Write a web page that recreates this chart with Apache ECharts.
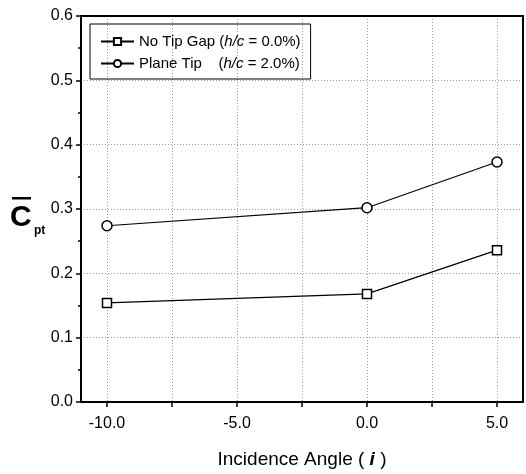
<!DOCTYPE html>
<html>
<head>
<meta charset="utf-8">
<script src="https://cdn.jsdelivr.net/npm/echarts@6/dist/echarts.min.js"></script>
<style>
  html, body { margin: 0; padding: 0; background: #fff; }
  #chart { width: 526px; height: 474px; }
</style>
</head>
<body>
<div id="chart"></div>
<script>
// data
var angles = [-10, 0, 5];
var noTipGap = [0.154, 0.168, 0.236];
var planeTip = [0.274, 0.302, 0.373];
var xLabelValues = [-10, -5, 0, 5];
var xTickValues = [-10, -7.5, -5, -2.5, 0, 2.5, 5];

var FONT = '"Liberation Sans", Arial, sans-serif';

function pairs(xs, ys){
    return xs.map(function(x, i){ return [x, ys[i]]; });
}

var gridLine = { show: true, lineStyle: { color: '#9a9a9a', type: [1, 2], width: 1 } };

var chart = echarts.init(document.getElementById('chart'));

chart.setOption({
    animation: false,
    backgroundColor: '#fff',
    grid: { left: 81, top: 16, right: 3, bottom: 72 },
    legend: {
        left: 90, top: 24,
        orient: 'vertical',
        borderColor: '#000', borderWidth: 1,
        padding: [10, 10, 8, 10],
        itemGap: 7,
        itemWidth: 33, itemHeight: 9,
        textStyle: {
            fontFamily: FONT, fontSize: 15, color: '#000',
            rich: { it: { fontFamily: FONT, fontSize: 15, fontStyle: 'italic', color: '#000' } }
        },
        formatter: function(name){
            if (name === 'No Tip Gap') return 'No Tip Gap ({it|h/c} = 0.0%)';
            return 'Plane Tip    ({it|h/c} = 2.0%)';
        },
        data: ['No Tip Gap', 'Plane Tip']
    },
    xAxis: [{
        type: 'value', min: -11, max: 6,
        name: 'Incidence Angle ( {b|i} )',
        nameLocation: 'middle', nameGap: 48,
        nameTextStyle: {
            fontFamily: FONT, fontSize: 19, color: '#000',
            rich: { b: { fontFamily: FONT, fontSize: 19, fontWeight: 'bold', fontStyle: 'italic', color: '#000' } }
        },
        axisLine: { show: true, onZero: false, lineStyle: { color: '#000', width: 2 } },
        axisTick: { show: true, customValues: xTickValues, length: 5, lineStyle: { color: '#000', width: 1.5 } },
        axisLabel: {
            customValues: xLabelValues, margin: 14,
            fontFamily: FONT, fontSize: 16, color: '#000',
            formatter: function(v){ return v.toFixed(1); }
        },
        splitLine: gridLine
    }, {
        type: 'value', min: -11, max: 6, position: 'top',
        axisLine: { show: true, onZero: false, lineStyle: { color: '#000', width: 2 } },
        axisTick: { show: false }, axisLabel: { show: false }, splitLine: { show: false }
    }],
    yAxis: [{
        type: 'value', min: 0, max: 0.6, interval: 0.1,
        axisLine: { show: true, onZero: false, lineStyle: { color: '#000', width: 2 } },
        axisTick: { show: true, length: 5, lineStyle: { color: '#000', width: 1.5 } },
        minorTick: { show: true, splitNumber: 2, length: 3, lineStyle: { color: '#000', width: 1.5 } },
        axisLabel: {
            margin: 8, fontFamily: FONT, fontSize: 16, color: '#000',
            formatter: function(v){ return v.toFixed(1); }
        },
        splitLine: gridLine
    }, {
        type: 'value', min: 0, max: 0.6, position: 'right',
        axisLine: { show: true, onZero: false, lineStyle: { color: '#000', width: 2 } },
        axisTick: { show: false }, axisLabel: { show: false }, splitLine: { show: false }
    }],
    graphic: [
        { type: 'text', left: 10, top: 203,
          style: { text: 'C', font: 'bold 30px ' + FONT, fill: '#000' } },
        { type: 'rect', left: 12, top: 197, shape: { width: 19, height: 2.5 }, style: { fill: '#000' } },
        { type: 'text', left: 34, top: 225,
          style: { text: 'pt', font: 'bold 12px ' + FONT, fill: '#000' } }
    ],
    series: [{
        name: 'No Tip Gap', type: 'line',
        data: pairs(angles, noTipGap),
        symbol: 'rect', symbolSize: 9,
        lineStyle: { color: '#000', width: 1.2 },
        itemStyle: { color: '#fff', borderColor: '#000', borderWidth: 1.5 }
    }, {
        name: 'Plane Tip', type: 'line',
        data: pairs(angles, planeTip),
        symbol: 'circle', symbolSize: 10,
        lineStyle: { color: '#000', width: 1.2 },
        itemStyle: { color: '#fff', borderColor: '#000', borderWidth: 1.5 }
    }]
});
</script>
</body>
</html>
